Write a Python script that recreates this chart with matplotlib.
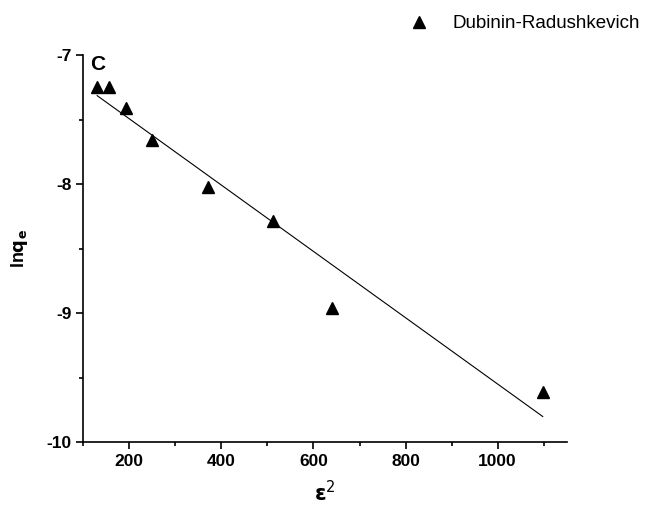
import matplotlib.pyplot as plt
import numpy as np

plt.rcParams['font.family'] = ['Liberation Sans', 'DejaVu Sans']
plt.rcParams['axes.unicode_minus'] = False

# epsilon^2 and ln qe
eps2 = [130, 156, 192, 249, 371, 512, 640, 1098]
lnqe = [-7.25, -7.25, -7.41, -7.66, -8.02, -8.29, -8.96, -9.61]

xticks = [200, 400, 600, 800, 1000]
yticks = [-10, -9, -8, -7]

fig = plt.figure(figsize=(6.48, 5.15), dpi=100)
ax = fig.add_axes([0.1286, 0.1417, 0.7459, 0.7515])

ax.plot(eps2, lnqe, linestyle='none', marker='^', markersize=9,
        color='black', label='Dubinin-Radushkevich')

# linear fit
k, b = np.polyfit(eps2, lnqe, 1)
fx = np.array([eps2[0], eps2[-1]])
ax.plot(fx, k * fx + b, color='black', linewidth=0.8)

ax.set_xlim(100, 1150)
ax.set_ylim(-10, -7)
ax.set_xticks(xticks)
ax.set_yticks(yticks)
ax.set_xticks(np.arange(100, 1150, 200), minor=True)
ax.set_yticks([-9.5, -8.5, -7.5], minor=True)

for s in ['top', 'right']:
    ax.spines[s].set_visible(False)
ax.spines['left'].set_linewidth(1.2)
ax.spines['bottom'].set_linewidth(1.2)
ax.tick_params(which='major', direction='out', length=5, width=1.2, labelsize=12.5)
ax.tick_params(which='minor', direction='out', length=3, width=1.2)
for lab in ax.get_xticklabels() + ax.get_yticklabels():
    lab.set_fontweight('bold')

ax.set_xlabel(r'$\mathbf{\varepsilon}^2$', fontsize=15, labelpad=8)
ax.set_ylabel(r'ln$\mathbf{q_e}$', fontsize=13, fontweight='bold', labelpad=12)

ax.text(0.015, 1.0, 'C', transform=ax.transAxes, fontsize=15,
        fontweight='bold', va='top', ha='left')

ax.legend(loc='upper right', bbox_to_anchor=(1.0, 0.985),
          bbox_transform=fig.transFigure, frameon=False, borderaxespad=0,
          fontsize=13.5, handletextpad=0.8, markerscale=0.9)

fig.savefig('out.png', dpi=100)
